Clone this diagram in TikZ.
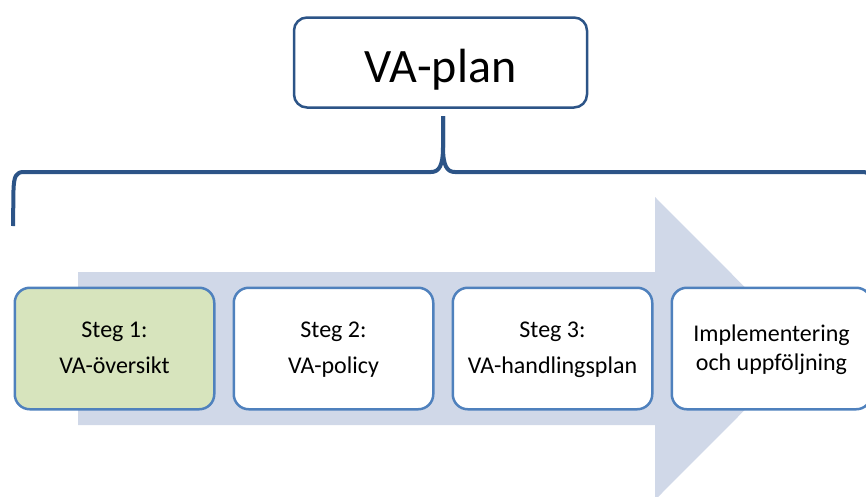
\documentclass[tikz,border=0pt]{standalone}
\usepackage{fontspec}
\setmainfont{Carlito}
\usepackage{xcolor}
\usepackage{tikz}
\usetikzlibrary{positioning}
\definecolor{planline}{HTML}{2C5487}
\definecolor{stepline}{HTML}{4F81BD}
\definecolor{arrowfill}{HTML}{D0D8E8}
\definecolor{firstfill}{HTML}{D7E4BD}

\begin{document}
\begin{tikzpicture}[x=1pt,y=-1pt,
    planbox/.style={draw=planline,line width=2.5pt,rounded corners=13pt,fill=white,
      minimum width=293pt,minimum height=90pt,text height=44pt,text depth=5pt,
      font=\fontsize{48}{58}\selectfont},
    stepbox/.style={draw=stepline,line width=2.5pt,rounded corners=15pt,fill=white,
      minimum width=199.5pt,minimum height=121.5pt,inner sep=0pt,align=center,
      font=\fontsize{24}{36}\selectfont},
    brace/.style={draw=planline,line width=4pt,line join=round}]
    \useasboundingbox (0,0) rectangle (866,496);
    \fill[arrowfill] (78,272) -- (655,272) -- (655,197) -- (806,348.5)
        -- (655,500) -- (655,425) -- (78,425) -- cycle;
    \node[planbox] (plan) at (440.5,62.5) {VA-plan};
    \coordinate (tip) at (443,116);
    \draw[brace] (tip) -- (443,147) .. controls (443,166) and (439,172) .. (431,172)
        -- (24,172) .. controls (16,172) and (14,176) .. (13.5,190) -- (13,226);
    \draw[brace] (tip) -- (443,147) .. controls (443,166) and (447,172) .. (455,172)
        -- (862,172) .. controls (870,172) and (872,176) .. (872.5,190) -- (873,226);
    \node[stepbox,fill=firstfill] (s1) at (114.5,348.5) {\strut Steg 1:\\VA-översikt\strut};
    \node[stepbox,right=17pt of s1] (s2) {\strut Steg 2:\\VA-policy\strut};
    \node[stepbox,right=17pt of s2] (s3) {\strut Steg 3:\\VA-handlingsplan\strut};
    \node[stepbox,right=17pt of s3] (s4) {\strut Implementering\\[-7pt]och uppföljning\strut};
\end{tikzpicture}
\end{document}
